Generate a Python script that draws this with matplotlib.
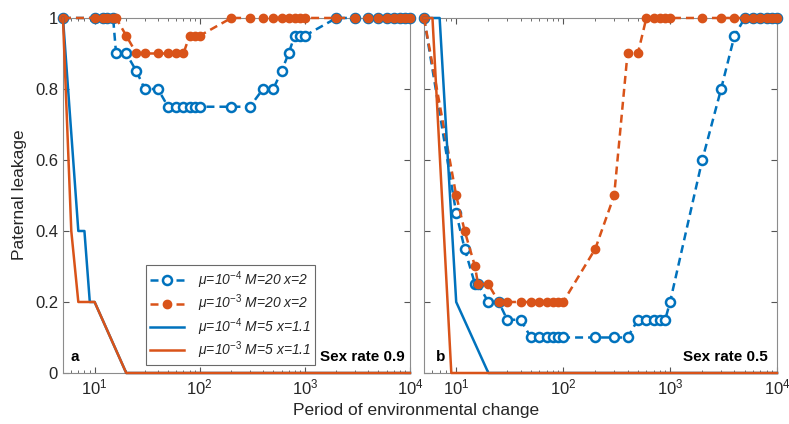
import numpy as np
import matplotlib
matplotlib.use("Agg")
import matplotlib.pyplot as plt
from matplotlib.ticker import FixedLocator, FixedFormatter, LogLocator, NullFormatter

plt.rcParams['font.family'] = ['Liberation Sans', 'DejaVu Sans']
plt.rcParams['mathtext.fontset'] = 'custom'
plt.rcParams['mathtext.rm'] = 'Liberation Sans'
plt.rcParams['mathtext.it'] = 'Liberation Sans:italic'

BLUE = '#0072BD'
ORANGE = '#D95319'

# === panel a: sex rate 0.9 ===
period_a = [5, 10, 12, 13, 15, 16, 20, 25, 30, 40, 50, 60, 70, 80, 90, 100,
            200, 300, 400, 500, 600, 700, 800, 900, 1000,
            2000, 3000, 4000, 5000, 6000, 7000, 8000, 9000, 10000]
leak_a_mu4_M20 = [1, 1, 1, 1, 1, 0.9, 0.9, 0.85, 0.8, 0.8, 0.75, 0.75, 0.75, 0.75, 0.75, 0.75,
                  0.75, 0.75, 0.8, 0.8, 0.85, 0.9, 0.95, 0.95, 0.95,
                  1, 1, 1, 1, 1, 1, 1, 1, 1]
leak_a_mu3_M20 = [1, 1, 1, 1, 1, 1, 0.95, 0.9, 0.9, 0.9, 0.9, 0.9, 0.9, 0.95, 0.95, 0.95,
                  1, 1, 1, 1, 1, 1, 1, 1, 1,
                  1, 1, 1, 1, 1, 1, 1, 1, 1]
period_a_mu4_M5 = [5, 7, 8, 9, 10, 20, 10000]
leak_a_mu4_M5 = [1, 0.4, 0.4, 0.2, 0.2, 0, 0]
period_a_mu3_M5 = [5, 6, 7, 8, 9, 10, 20, 10000]
leak_a_mu3_M5 = [1, 0.4, 0.2, 0.2, 0.2, 0.2, 0, 0]

# === panel b: sex rate 0.5 ===
period_b = [5, 10, 12, 15, 16, 20, 25, 30, 40, 50, 60, 70, 80, 90, 100,
            200, 300, 400, 500, 600, 700, 800, 900, 1000,
            2000, 3000, 4000, 5000, 6000, 7000, 8000, 9000, 10000]
leak_b_mu4_M20 = [1, 0.45, 0.35, 0.25, 0.25, 0.2, 0.2, 0.15, 0.15, 0.1, 0.1, 0.1, 0.1, 0.1, 0.1,
                  0.1, 0.1, 0.1, 0.15, 0.15, 0.15, 0.15, 0.15, 0.2,
                  0.6, 0.8, 0.95, 1, 1, 1, 1, 1, 1]
leak_b_mu3_M20 = [1, 0.5, 0.4, 0.3, 0.25, 0.25, 0.2, 0.2, 0.2, 0.2, 0.2, 0.2, 0.2, 0.2, 0.2,
                  0.35, 0.5, 0.9, 0.9, 1, 1, 1, 1, 1,
                  1, 1, 1, 1, 1, 1, 1, 1, 1]
period_b_mu4_M5 = [5, 7, 10, 20, 10000]
leak_b_mu4_M5 = [1, 1, 0.2, 0, 0]
period_b_mu3_M5 = [5, 6, 9, 10000]
leak_b_mu3_M5 = [1, 1, 0, 0]

labels = [r'$\mathit{\mu}$=10$^{-4}$ M=20 x=2',
          r'$\mathit{\mu}$=10$^{-3}$ M=20 x=2',
          r'$\mathit{\mu}$=10$^{-4}$ M=5 x=1.1',
          r'$\mathit{\mu}$=10$^{-3}$ M=5 x=1.1']

fig = plt.figure(figsize=(7.89, 4.24), dpi=100)
ax_a = fig.add_axes([0.0798, 0.1203, 0.4398, 0.8373])
ax_b = fig.add_axes([0.5374, 0.1203, 0.4474, 0.8373])

dash = (0, (3.2, 2.0))


def draw_panel(ax, px, y1, y2, sx1, sy1, sx2, sy2):
    h1, = ax.plot(px, y1, color=BLUE, ls=dash, lw=1.8, marker='o', ms=6.5,
                  mfc='white', mec=BLUE, mew=1.8, clip_on=False, zorder=3)
    h2, = ax.plot(px, y2, color=ORANGE, ls=dash, lw=1.8, marker='o', ms=6,
                  mfc=ORANGE, mec=ORANGE, clip_on=False, zorder=4)
    h3, = ax.plot(sx1, sy1, color=BLUE, lw=1.8, clip_on=False, zorder=5)
    h4, = ax.plot(sx2, sy2, color=ORANGE, lw=1.8, clip_on=False, zorder=6)
    ax.set_xscale('log')
    ax.set_xlim(5, 1e4)
    ax.set_ylim(0, 1)
    ax.xaxis.set_major_locator(LogLocator(base=10, numticks=10))
    ax.xaxis.set_minor_locator(LogLocator(base=10, subs=np.arange(2, 10), numticks=20))
    ax.xaxis.set_minor_formatter(NullFormatter())
    ax.yaxis.set_major_locator(FixedLocator([0, 0.2, 0.4, 0.6, 0.8, 1]))
    ax.tick_params(which='both', direction='in', top=True, right=True,
                   color='#555555', labelsize=12, labelcolor='#262626')
    ax.tick_params(which='major', length=4)
    ax.tick_params(which='minor', length=2)
    for s in ax.spines.values():
        s.set_color('#8c8c8c')
        s.set_linewidth(0.8)
    return [h1, h2, h3, h4]


handles = draw_panel(ax_a, period_a, leak_a_mu4_M20, leak_a_mu3_M20,
                     period_a_mu4_M5, leak_a_mu4_M5, period_a_mu3_M5, leak_a_mu3_M5)
draw_panel(ax_b, period_b, leak_b_mu4_M20, leak_b_mu3_M20,
           period_b_mu4_M5, leak_b_mu4_M5, period_b_mu3_M5, leak_b_mu3_M5)

ax_a.yaxis.set_major_formatter(FixedFormatter(['0', '0.2', '0.4', '0.6', '0.8', '1']))
ax_b.set_yticklabels([])

ax_a.text(0.022, 0.035, 'a', transform=ax_a.transAxes, fontsize=11, fontweight='bold')
ax_a.text(0.985, 0.035, 'Sex rate 0.9', transform=ax_a.transAxes, fontsize=11,
          fontweight='bold', ha='right')
ax_b.text(0.035, 0.035, 'b', transform=ax_b.transAxes, fontsize=11, fontweight='bold')
ax_b.text(0.975, 0.035, 'Sex rate 0.5', transform=ax_b.transAxes, fontsize=11,
          fontweight='bold', ha='right')

leg = ax_a.legend(handles, labels, loc='lower left', bbox_to_anchor=(0.24, 0.022),
                  fontsize=10, frameon=True, fancybox=False, handlelength=2.4,
                  borderpad=0.3, labelspacing=0.12, handletextpad=1.0,
                  borderaxespad=0.0)
leg.get_frame().set_edgecolor('#444444')
leg.get_frame().set_linewidth(0.8)
for t in leg.get_texts():
    t.set_fontstyle('italic')
    t.set_color('#262626')

fig.text(0.527, 0.022, 'Period of environmental change', ha='center', fontsize=12.5,
         color='#262626')
fig.text(0.025, 0.54, 'Paternal leakage', va='center', ha='center', rotation=90,
         fontsize=12.5, color='#262626')

fig.savefig('out.png', dpi=100)
